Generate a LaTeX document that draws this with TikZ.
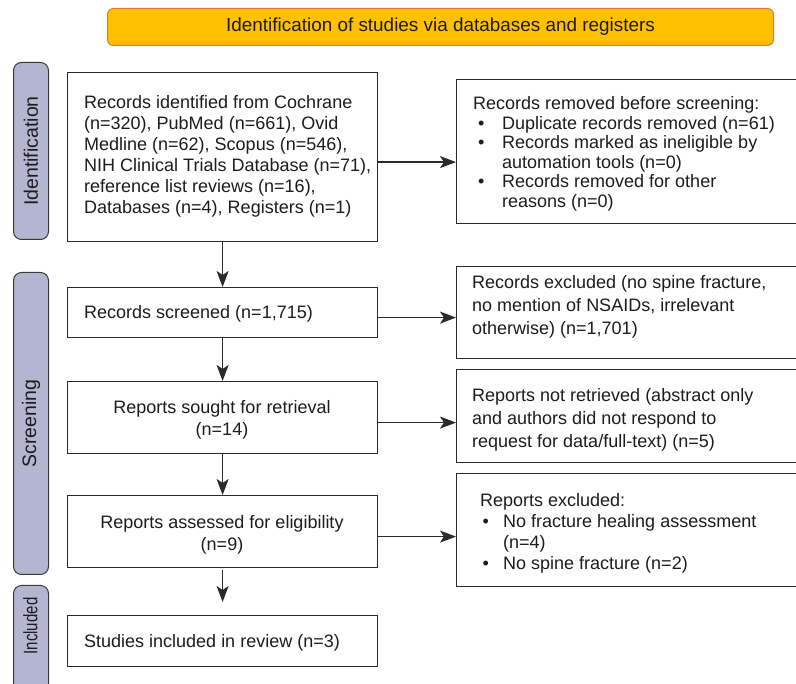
\documentclass[tikz,border=0pt]{standalone}
\usepackage{fontspec}
\usepackage{graphicx}
\setmainfont{Liberation Sans}
\usetikzlibrary{arrows.meta}
\definecolor{hdrfill}{HTML}{FFC000}
\definecolor{hdrline}{HTML}{E07B2A}
\definecolor{sidefill}{HTML}{B4B5D0}
\definecolor{sideline}{HTML}{3A3A3A}
\definecolor{linegray}{HTML}{2A2A2A}
\definecolor{txt}{HTML}{1E1B1C}
\newcommand{\bl}{\makebox[29pt][l]{\hspace{5pt}\textbullet}}
\newcommand{\ind}{\hspace*{29pt}}
\newcommand{\blb}{\makebox[23pt][l]{\hspace{2.5pt}\textbullet}}
\newcommand{\indb}{\hspace*{23pt}}
\begin{document}
\begin{tikzpicture}[x=1pt,y=-1pt,
  box/.style={draw=linegray, line width=1.2pt, anchor=north west, inner sep=0pt},
  hdr/.style={draw=hdrline, fill=hdrfill, line width=1pt, rounded corners=6pt, anchor=north west, inner sep=0pt,
    text=txt, font=\fontsize{18.9}{21}\selectfont},
  side/.style={draw=sideline, fill=sidefill, line width=1pt, rounded corners=8pt, inner sep=0pt},
  sidetext/.style={text=txt, font=\fontsize{19.5}{22}\selectfont, inner sep=0pt, rotate=90},
  tl/.style={text=txt, align=left, anchor=west, inner sep=0pt, font=\fontsize{18}{20.5}\selectfont},
  tc/.style={text=txt, align=center, anchor=center, inner sep=0pt, font=\fontsize{18}{22.3}\selectfont},
  arr/.style={draw=linegray, line width=1.2pt, -{Stealth[length=16pt,width=12pt,inset=4pt]}}
]
\useasboundingbox (0,0) rectangle (796,684);
\clip (0,0) rectangle (796,684);

% header
\node[hdr, minimum width=666pt, minimum height=37pt] (hdr) at (107,8) {Identification of studies via databases and registers};

% side labels
\node[side, minimum width=35pt, minimum height=177pt, anchor=north west] (sid) at (13,62) {};
\node[sidetext] (sidt) at (sid.center) {Identification};
\node[side, minimum width=35pt, minimum height=302pt, anchor=north west] (scr) at (13,272) {};
\node[sidetext] (scrt) at (scr.center) {Screening};
\node[side, minimum width=35pt, minimum height=130pt, anchor=north west] (inc) at (13,585) {};
\node[sidetext] (inct) at (30.5,626) {\scalebox{0.77}[1]{Included}};

% left boxes
\node[box, minimum width=310pt, minimum height=169pt] (b1) at (67,72) {};
\node[box, minimum width=310pt, minimum height=50pt] (b2) at (67,287) {};
\node[box, minimum width=310pt, minimum height=72pt] (b3) at (67,381) {};
\node[box, minimum width=310pt, minimum height=72pt] (b4) at (67,495) {};
\node[box, minimum width=310pt, minimum height=51pt] (b5) at (67,615) {};

% right boxes
\node[box, minimum width=360pt, minimum height=144pt] (r1) at (456,79) {};
\node[box, minimum width=360pt, minimum height=92pt] (r2) at (456,266) {};
\node[box, minimum width=360pt, minimum height=93pt] (r3) at (456,369) {};
\node[box, minimum width=360pt, minimum height=113pt] (r4) at (456,473) {};

% texts
\node[tl, font=\fontsize{18}{21}\selectfont] (t1) at (84,156) {Records identified from Cochrane\\(n=320), PubMed (n=661), Ovid\\Medline (n=62), Scopus (n=546),\\NIH Clinical Trials Database (n=71),\\reference list reviews (n=16),\\Databases (n=4), Registers (n=1)};
\node[tl] (t2) at (84,314) {Records screened (n=1,715)};
\node[tc] (t3) at (222,420) {Reports sought for retrieval\\(n=14)};
\node[tc] (t4) at (222,535) {Reports assessed for eligibility\\(n=9)};
\node[tl] (t5) at (84,643) {Studies included in review (n=3)};

\node[tl, font=\fontsize{18}{19.5}\selectfont] (u1) at (473,154) {Records removed before screening:\\\bl Duplicate records removed (n=61)\\\bl Records marked as ineligible by\\\ind automation tools (n=0)\\\bl Records removed for other\\\ind reasons (n=0)};
\node[tl, font=\fontsize{18}{23}\selectfont] (u2) at (472,307) {Records excluded (no spine fracture,\\no mention of NSAIDs, irrelevant\\otherwise) (n=1,701)};
\node[tl, font=\fontsize{18}{23}\selectfont] (u3) at (472,420) {Reports not retrieved (abstract only\\and authors did not respond to\\request for data/full-text) (n=5)};
\node[tl, font=\fontsize{18}{21}\selectfont] (u4) at (480,533) {Reports excluded:\\\blb No fracture healing assessment\\\indb (n=4)\\\blb No spine fracture (n=2)};

% vertical arrows
\draw[arr] (b1.south) -- (b2.north);
\draw[arr] (b2.south) -- (b3.north);
\draw[arr] (b3.south) -- (b4.north);
\draw[arr] ([yshift=-2pt]b4.south) -- ([yshift=13pt]b5.north);

% horizontal arrows
\draw[arr] ([yshift=-5pt]b1.east) -- ([yshift=-5pt]b1.east -| r1.west);
\draw[arr] ([yshift=-5pt]b2.east) -- ([yshift=-5pt]b2.east -| r2.west);
\draw[arr] ([yshift=-5pt]b3.east) -- ([yshift=-5pt]b3.east -| r3.west);
\draw[arr] ([yshift=-5pt]b4.east) -- ([yshift=-5pt]b4.east -| r4.west);
\end{tikzpicture}
\end{document}
